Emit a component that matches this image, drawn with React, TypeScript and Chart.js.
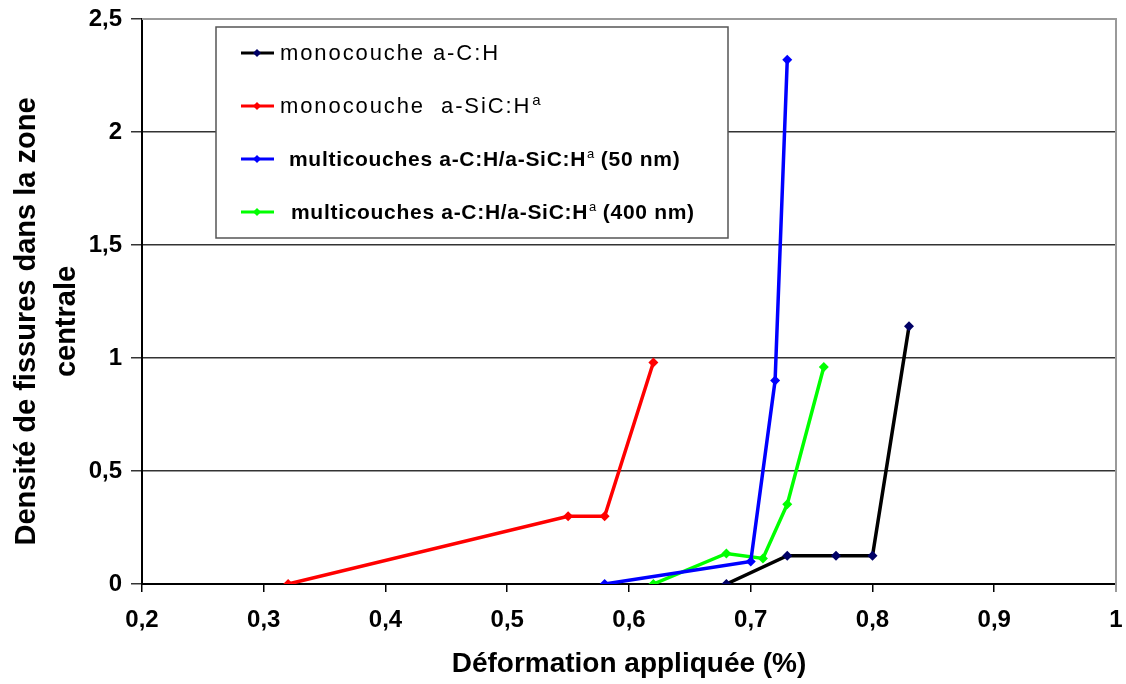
import React, { useEffect, useRef } from "react";
import { Chart, registerables } from "chart.js";

Chart.register(...registerables);

const monoCHx = [0.68, 0.73, 0.77, 0.8, 0.83];
const monoCHy = [0, 0.125, 0.125, 0.125, 1.14];
const monoSiCx = [0.32, 0.55, 0.58, 0.62];
const monoSiCy = [0, 0.3, 0.3, 0.98];
const multi50x = [0.58, 0.7, 0.72, 0.73];
const multi50y = [0, 0.1, 0.9, 2.32];
const multi400x = [0.62, 0.68, 0.71, 0.73, 0.76];
const multi400y = [0, 0.135, 0.113, 0.353, 0.96];

const seriesNames = [
  "monocouche a-C:H",
  "monocouche  a-SiC:H",
  "multicouches a-C:H/a-SiC:H",
  "multicouches a-C:H/a-SiC:H",
];
const seriesSuffix = ["", "", " (50 nm)", " (400 nm)"];
const seriesSup = ["", "a", "a", "a"];
const lineColors = ["#000000", "#ff0000", "#0000ff", "#00ff00"];
const markerColors = ["#000066", "#ff0000", "#0000ff", "#00ff00"];

const xTicks = [0.2, 0.3, 0.4, 0.5, 0.6, 0.7, 0.8, 0.9, 1];
const yTicks = [0, 0.5, 1, 1.5, 2, 2.5];

const xTitle = "Déformation appliquée (%)";
const yTitleLines = ["Densité de fissures dans la zone", "centrale"];

const FAMILY = "'Liberation Sans', Arial, sans-serif";

const fmt = (v: number) => String(Math.round(v * 10) / 10).replace(".", ",");

const pts = (xs: number[], ys: number[]) => xs.map((x, i) => ({ x, y: ys[i] }));

const borderPlugin = {
  id: "plotBorder",
  afterDraw(chart: any) {
    const { ctx, chartArea: a } = chart;
    ctx.save();
    ctx.strokeStyle = "#9a9a9a";
    ctx.lineWidth = 2;
    ctx.beginPath();
    ctx.moveTo(a.left, a.top);
    ctx.lineTo(a.right, a.top);
    ctx.lineTo(a.right, a.bottom + 8);
    ctx.stroke();
    ctx.restore();
  },
};

const yTitlePlugin = {
  id: "yTitle",
  afterDraw(chart: any) {
    const ctx = chart.ctx;
    const a = chart.chartArea;
    const cy = (a.top + a.bottom) / 2 + 20;
    ctx.save();
    ctx.fillStyle = "#000";
    ctx.font = `bold 29px ${FAMILY}`;
    ctx.textAlign = "center";
    ctx.textBaseline = "middle";
    const xs = [27, 67];
    yTitleLines.forEach((t, i) => {
      ctx.save();
      ctx.translate(xs[i], cy);
      ctx.rotate(-Math.PI / 2);
      ctx.fillText(t, 0, 0);
      ctx.restore();
    });
    ctx.restore();
  },
};

const legendPlugin = {
  id: "customLegend",
  afterDraw(chart: any) {
    const ctx = chart.ctx;
    ctx.save();
    const bx = 216, by = 27, bw = 512, bh = 211;
    ctx.fillStyle = "#ffffff";
    ctx.fillRect(bx, by, bw, bh);
    ctx.strokeStyle = "#555555";
    ctx.lineWidth = 1.5;
    ctx.strokeRect(bx, by, bw, bh);
    const rows = [53, 106, 159, 212];
    const textX = [280, 280, 289, 291];
    rows.forEach((yy, i) => {
      ctx.strokeStyle = lineColors[i];
      ctx.lineWidth = 3;
      ctx.beginPath();
      ctx.moveTo(241, yy);
      ctx.lineTo(274, yy);
      ctx.stroke();
      ctx.fillStyle = markerColors[i];
      ctx.beginPath();
      ctx.moveTo(257, yy - 4);
      ctx.lineTo(261, yy);
      ctx.lineTo(257, yy + 4);
      ctx.lineTo(253, yy);
      ctx.closePath();
      ctx.fill();
      const bold = i >= 2;
      const size = bold ? 21 : 22;
      const w = bold ? "bold " : "";
      const sp = bold ? "0.7px" : "1.9px";
      (ctx as any).letterSpacing = sp;
      ctx.font = `${w}${size}px ${FAMILY}`;
      ctx.fillStyle = "#000000";
      ctx.textBaseline = "middle";
      ctx.textAlign = "left";
      let x = textX[i];
      ctx.fillText(seriesNames[i], x, yy + 1);
      x += ctx.measureText(seriesNames[i]).width;
      if (seriesSup[i]) {
        (ctx as any).letterSpacing = "0px";
        ctx.font = `${bold ? 13 : 15}px ${FAMILY}`;
        ctx.fillText(seriesSup[i], x + 1, yy - 5);
        x += ctx.measureText(seriesSup[i]).width + 1;
      }
      if (seriesSuffix[i]) {
        (ctx as any).letterSpacing = sp;
        ctx.font = `${w}${size}px ${FAMILY}`;
        ctx.fillText(seriesSuffix[i], x, yy + 1);
      }
    });
    ctx.restore();
  },
};

export default function App() {
  const ref = useRef<HTMLCanvasElement | null>(null);
  useEffect(() => {
    if (!ref.current) return;
    const mk = (i: number, xs: number[], ys: number[]) => ({
      label: seriesNames[i] + seriesSup[i] + seriesSuffix[i],
      data: pts(xs, ys),
      showLine: true,
      borderColor: lineColors[i],
      backgroundColor: markerColors[i],
      pointBackgroundColor: markerColors[i],
      pointBorderColor: markerColors[i],
      borderWidth: 3.5,
      pointStyle: "rectRot",
      pointRadius: 5,
      pointBorderWidth: 0,
      tension: 0,
    });
    const chart = new Chart(ref.current, {
      type: "scatter",
      data: {
        datasets: [
          mk(0, monoCHx, monoCHy),
          mk(1, monoSiCx, monoSiCy),
          mk(2, multi50x, multi50y),
          mk(3, multi400x, multi400y),
        ],
      },
      options: {
        animation: false,
        responsive: true,
        maintainAspectRatio: false,
        layout: { padding: { top: 19, right: 10, left: 0, bottom: 0 } },
        plugins: { legend: { display: false }, tooltip: { enabled: false } },
        scales: {
          x: {
            type: "linear",
            min: 0.2,
            max: 1,
            afterBuildTicks: (s: any) => {
              s.ticks = xTicks.map((v) => ({ value: v }));
            },
            afterFit: (s: any) => {
              s.height = 100;
              s.paddingLeft = 0;
              s.paddingRight = 0;
            },
            ticks: {
              callback: (v: any) => fmt(Number(v)),
              color: "#000",
              font: { family: FAMILY, size: 24, weight: "bold" },
              padding: 14,
              maxRotation: 0,
              autoSkip: false,
            },
            grid: {
              drawOnChartArea: false,
              drawTicks: true,
              tickLength: 8,
              color: "#000",
              lineWidth: 1.5,
            },
            border: { color: "#000", width: 2 },
            title: {
              display: true,
              text: xTitle,
              color: "#000",
              font: { family: FAMILY, size: 28, weight: "bold" },
              padding: { top: 4, bottom: 3 },
            },
          },
          y: {
            type: "linear",
            min: 0,
            max: 2.5,
            afterBuildTicks: (s: any) => {
              s.ticks = yTicks.map((v) => ({ value: v }));
            },
            afterFit: (s: any) => {
              s.width = 142;
              s.paddingTop = 0;
              s.paddingBottom = 0;
            },
            ticks: {
              callback: (v: any) => fmt(Number(v)),
              color: "#000",
              font: { family: FAMILY, size: 24, weight: "bold" },
              padding: 9,
              autoSkip: false,
            },
            grid: {
              drawOnChartArea: true,
              drawTicks: true,
              tickLength: 11,
              color: "#333",
              lineWidth: 1.5,
            },
            border: { color: "#000", width: 2 },
            title: { display: false },
          },
        },
      },
      plugins: [borderPlugin, yTitlePlugin, legendPlugin],
    } as any);
    return () => chart.destroy();
  }, []);
  return (
    <div style={{ position: "fixed", left: 0, top: 0, width: 1126, height: 684, background: "#fff" }}>
      <canvas ref={ref} />
    </div>
  );
}
